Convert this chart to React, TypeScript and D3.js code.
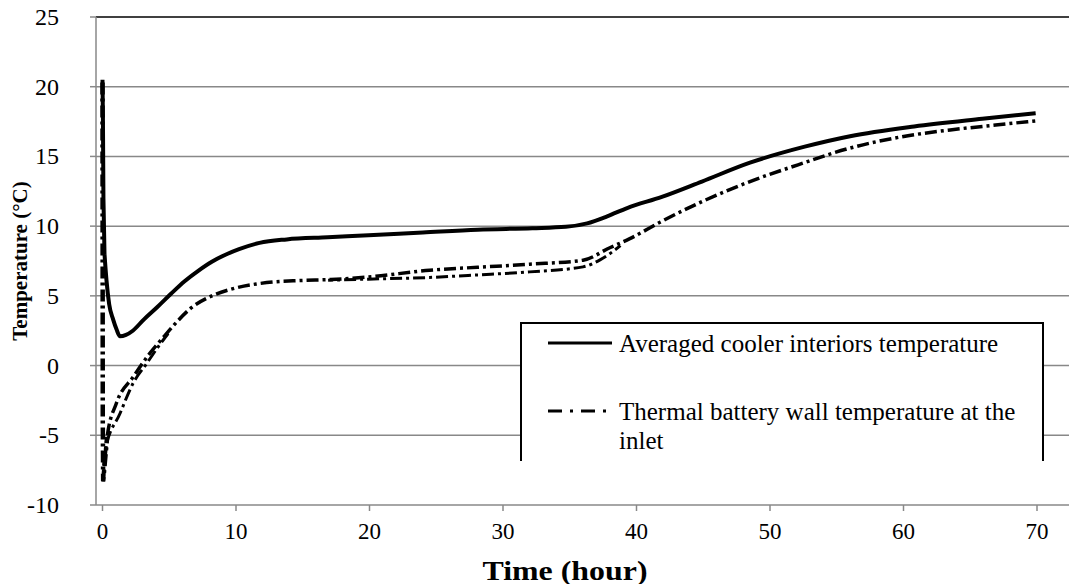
import * as d3 from 'd3';

// Time (hour) and temperature (°C)
const coolerTime = [0, 0.03, 0.07, 0.15, 0.3, 0.5, 0.8, 1.05, 1.31, 1.76, 2.27, 3.09, 4.11, 5.13, 6.15, 7.17, 8.19, 9.21, 10.23, 11.76, 13.8, 16.87, 19.93, 24, 28.1, 32.2, 34.7, 36.3, 37.8, 39.3, 41.9, 44.9, 48.5, 52.6, 56, 60.8, 65.9, 69.9];
const coolerTemp = [20.5, 18, 12, 8, 6.1, 4.4, 3.3, 2.6, 2.1, 2.2, 2.5, 3.3, 4.2, 5.15, 6.05, 6.8, 7.45, 7.95, 8.35, 8.8, 9.05, 9.2, 9.35, 9.55, 9.75, 9.85, 9.95, 10.2, 10.7, 11.3, 12.1, 13.2, 14.55, 15.7, 16.45, 17.15, 17.7, 18.1];

const inletTime = [0, 0.01, 0.02, 0.05, 0.35, 1.04, 2.31, 3.56, 4.62, 5.3, 6.66, 8.19, 9.72, 12.3, 14.8, 17.1, 19.9, 24.5, 28.1, 32, 36, 38, 39.5, 41.8, 45, 48.5, 52.1, 56, 59.8, 63.5, 66.9, 69.9];
const inletTemp = [20.3, 8, -3.8, -8.3, -5.1, -2.7, -0.8, 0.9, 2.1, 2.85, 4.15, 5.0, 5.5, 5.95, 6.1, 6.17, 6.35, 6.84, 7.05, 7.27, 7.56, 8.45, 9.1, 10.3, 11.8, 13.2, 14.4, 15.6, 16.4, 16.9, 17.25, 17.55];

// second envelope of the oscillating inlet curve
const inletLowTime = [0.05, 0.19, 1.31, 2.29, 3.31, 4.21, 4.92];
const inletLowTemp = [-8.3, -6.1, -3.44, -1.27, 0.15, 1.4, 2.3];
const inletLowTime2 = [16.9, 19.9, 24.5, 28.1, 32, 36, 37.3, 38.8];
const inletLowTemp2 = [6.12, 6.2, 6.32, 6.5, 6.72, 7.08, 7.6, 8.6];

const xTicks = [0, 10, 20, 30, 40, 50, 60, 70];
const yTicks = [-10, -5, 0, 5, 10, 15, 20, 25];

const legendLabels = ['Averaged cooler interiors temperature', 'Thermal battery wall temperature at the', 'inlet'];

const font = '"Liberation Serif", "Times New Roman", serif';

const W = 1069;
const H = 584;

const App = () => {
  const x = d3.scaleLinear().domain([0, 70]).range([102.5, 1037]);
  const y = d3.scaleLinear().domain([-10, 25]).range([505, 17]);
  const axisX = 96;
  const plotRight = W;

  const toPts = (ts: number[], vs: number[]) => ts.map((t, i) => [t, vs[i]] as [number, number]);
  const line = d3.line<[number, number]>()
    .x(d => x(d[0]))
    .y(d => y(d[1]))
    .curve(d3.curveMonotoneX);
  const lineRaw = d3.line<[number, number]>()
    .x(d => x(d[0]))
    .y(d => y(d[1]))
    .curve(d3.curveLinear);

  const dashDot = '12,4,3,4';

  return (
    <svg width={W} height={H} style={{ position: 'absolute', left: 0, top: 0, background: 'white' }}>
      <rect x={0} y={0} width={W} height={H} fill="white" />
      {/* gridlines */}
      {yTicks.map(v => (
        <line key={v} x1={axisX} x2={plotRight} y1={y(v)} y2={y(v)}
          stroke={v === 25 ? '#000' : '#888'} strokeWidth={1.5} />
      ))}
      {/* y axis */}
      <line x1={axisX} x2={axisX} y1={y(25)} y2={y(-10)} stroke="#888" strokeWidth={1.5} />
      {yTicks.map(v => (
        <g key={'yt' + v}>
          <line x1={axisX - 6} x2={axisX} y1={y(v)} y2={y(v)} stroke="#888" strokeWidth={1.5} />
          <text x={59} y={y(v)} textAnchor="end" dominantBaseline="central"
            fontFamily={font} fontSize={24}>{v}</text>
        </g>
      ))}
      {/* x axis ticks */}
      {xTicks.map(v => (
        <g key={'xt' + v}>
          <line x1={x(v)} x2={x(v)} y1={y(-10)} y2={y(-10) + 6} stroke="#888" strokeWidth={1.5} />
          <text x={x(v)} y={y(-10) + 26} textAnchor="middle" dominantBaseline="central"
            fontFamily={font} fontSize={23}>{v}</text>
        </g>
      ))}

      {/* series */}
      <path d={lineRaw(toPts(inletTime.slice(0, 5), inletTemp.slice(0, 5))) || ''}
        fill="none" stroke="#000" strokeWidth={4.5} strokeDasharray={dashDot} />
      <path d={line(toPts(inletTime.slice(3), inletTemp.slice(3))) || ''}
        fill="none" stroke="#000" strokeWidth={3.5} strokeDasharray={dashDot} />
      <path d={line(toPts(inletLowTime, inletLowTemp)) || ''}
        fill="none" stroke="#000" strokeWidth={3} strokeDasharray={dashDot} strokeDashoffset={7} />
      <path d={line(toPts(inletLowTime2, inletLowTemp2)) || ''}
        fill="none" stroke="#000" strokeWidth={3} strokeDasharray={dashDot} strokeDashoffset={7} />
      <path d={lineRaw(toPts(coolerTime.slice(0, 4), coolerTemp.slice(0, 4))) || ''}
        fill="none" stroke="#000" strokeWidth={4} />
      <path d={line(toPts(coolerTime.slice(3), coolerTemp.slice(3))) || ''}
        fill="none" stroke="#000" strokeWidth={4} />

      {/* legend */}
      <rect x={521} y={323} width={522} height={138} fill="white" />
      <path d="M521,461 V323 H1043 V461" fill="none" stroke="#000" strokeWidth={2} />
      <line x1={548} x2={612} y1={343} y2={343} stroke="#000" strokeWidth={3} />
      <text x={619} y={343} dominantBaseline="central" fontFamily={font} fontSize={25}>{legendLabels[0]}</text>
      <line x1={548} x2={612} y1={411} y2={411} stroke="#000" strokeWidth={3} strokeDasharray="14,8,3,8" />
      <text x={619} y={411} dominantBaseline="central" fontFamily={font} fontSize={25}>{legendLabels[1]}</text>
      <text x={619} y={440} dominantBaseline="central" fontFamily={font} fontSize={25}>{legendLabels[2]}</text>

      {/* axis titles */}
      <text x={565} y={570} textAnchor="middle" dominantBaseline="central"
        fontFamily={font} fontSize={28} fontWeight="bold" textLength={165} lengthAdjust="spacingAndGlyphs">Time (hour)</text>
      <text transform={`translate(20,${(y(25) + y(-10)) / 2}) rotate(-90)`} textAnchor="middle"
        dominantBaseline="central" fontFamily={font} fontSize={21} fontWeight="bold">Temperature (°C)</text>
    </svg>
  );
};

export default App;
